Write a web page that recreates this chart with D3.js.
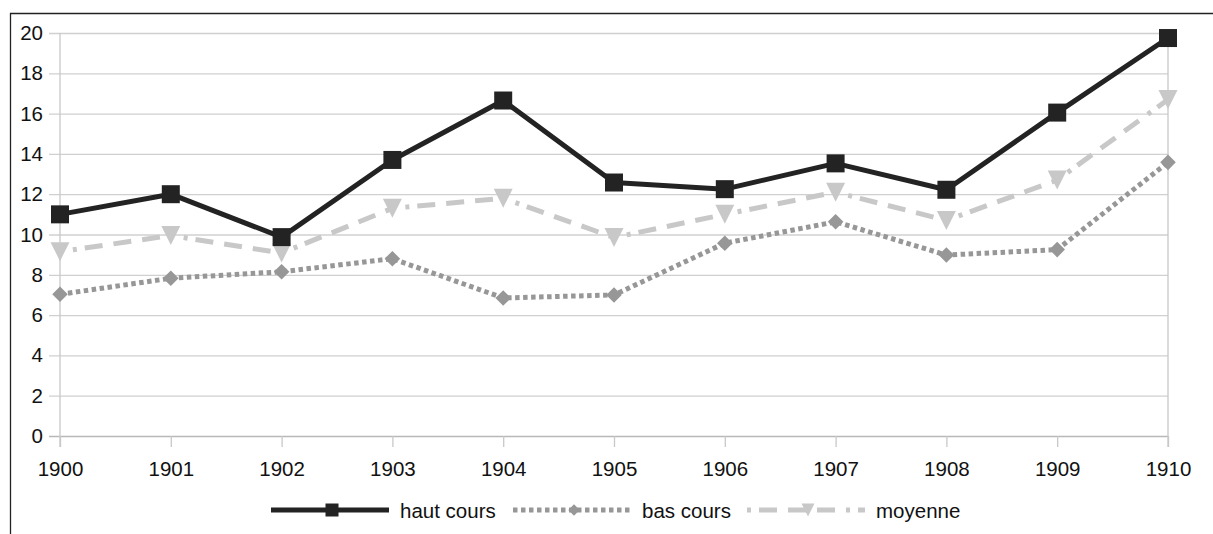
<!DOCTYPE html>
<html>
<head>
<meta charset="utf-8">
<script src="https://cdn.jsdelivr.net/npm/d3@7"></script>
<style>
  body { margin: 0; background: #fff; }
  svg { display: block; font-family: "Liberation Sans", Arial, sans-serif; }
</style>
</head>
<body>
<svg id="chart"></svg>
<script>
// data
var years = [1900, 1901, 1902, 1903, 1904, 1905, 1906, 1907, 1908, 1909, 1910];
var hautCours = [11.0, 12.0, 9.87, 13.7, 16.65, 12.58, 12.25, 13.53, 12.22, 16.05, 19.75];
var basCours = [7.03, 7.83, 8.15, 8.8, 6.85, 7.0, 9.57, 10.63, 8.98, 9.25, 13.58];
var moyenne = [9.15, 9.95, 9.08, 11.3, 11.8, 9.85, 11.0, 12.1, 10.7, 12.7, 16.7];
var yTicks = [0, 2, 4, 6, 8, 10, 12, 14, 16, 18, 20];
var legendLabels = ["haut cours", "bas cours", "moyenne"];

var W = 1213, H = 534;
var svg = d3.select("#chart").attr("width", W).attr("height", H);

// plot area
var plot = {left: 60, right: 1168, top: 33, bottom: 436};

var x = d3.scalePoint()
  .domain(years)
  .range([plot.left, plot.right]);

var y = d3.scaleLinear()
  .domain([0, 20])
  .range([plot.bottom, plot.top]);

// outer frame (top and left edges only are visible)
svg.append("path")
  .attr("d", "M10.5," + H + "V13.5H" + W)
  .attr("fill", "none")
  .attr("stroke", "#222")
  .attr("stroke-width", 1.3);

// horizontal grid + y labels
var gy = svg.append("g")
  .attr("transform", "translate(" + plot.left + ",0)")
  .call(d3.axisLeft(y).tickValues(yTicks).tickSize(-(plot.right - plot.left)).tickSizeOuter(0).tickPadding(17));
gy.select(".domain").remove();
gy.selectAll(".tick line")
  .attr("stroke", "#d0d0d0")
  .attr("stroke-width", 1.3)
  .attr("x1", -11);
gy.selectAll(".tick text")
  .attr("fill", "#111")
  .style("font-size", "20.5px");
gy.selectAll(".tick").filter(d => d === 0).select("line").attr("stroke", "#b8b8b8");

// x axis with ticks pointing down
var gx = svg.append("g")
  .attr("transform", "translate(0," + plot.bottom + ")")
  .call(d3.axisBottom(x).tickSize(11).tickSizeOuter(0).tickPadding(14));
gx.select(".domain").remove();
gx.selectAll(".tick line")
  .attr("stroke", "#c8c8c8")
  .attr("stroke-width", 1.3);
gx.selectAll(".tick text")
  .attr("fill", "#111")
  .style("font-size", "20.5px");

// left and right vertical lines
svg.append("g")
  .selectAll("line")
  .data([years[0], years[years.length - 1]])
  .join("line")
    .attr("x1", d => x(d))
    .attr("x2", d => x(d))
    .attr("y1", plot.top)
    .attr("y2", plot.bottom + 11)
    .attr("stroke", "#c8c8c8")
    .attr("stroke-width", 1.3);

// marker shapes
var triDown = {
  draw: function (ctx, size) {
    var s = Math.sqrt(size);
    ctx.moveTo(-s / 2, -s / 2);
    ctx.lineTo(s / 2, -s / 2);
    ctx.lineTo(0, s / 2);
    ctx.closePath();
  }
};

var series = [
  { name: legendLabels[0], values: hautCours, color: "#232323", dash: null, symbol: d3.symbolSquare, size: 18 * 18, rot: 0, lsize: 13 * 13 },
  { name: legendLabels[1], values: basCours, color: "#979797", dash: "4.5,3.5", symbol: d3.symbolSquare, size: 11 * 11, rot: 45, lsize: 8 * 8 },
  { name: legendLabels[2], values: moyenne, color: "#c8c8c8", dash: "4,8,18,11,18,11,18,11", symbol: triDown, size: 19 * 19, rot: 0, lsize: 13 * 13 }
];

var line = d3.line()
  .x(d => x(d[0]))
  .y(d => y(d[1]));

// draw bas cours, moyenne, then haut cours on top
[1, 2, 0].forEach(function (k) {
  var s = series[k];
  var pts = years.map((yr, i) => [yr, s.values[i]]);
  var g = svg.append("g");

  if (k === 2) {
    // the dash pattern restarts at each point
    g.selectAll("path.seg")
      .data(d3.pairs(pts))
      .join("path")
        .attr("class", "seg")
        .attr("d", d => line(d))
        .attr("fill", "none")
        .attr("stroke", s.color)
        .attr("stroke-width", 5)
        .attr("stroke-dasharray", s.dash)
        .attr("stroke-dashoffset", -13);
  } else {
    g.append("path")
      .datum(pts)
      .attr("d", line)
      .attr("fill", "none")
      .attr("stroke", s.color)
      .attr("stroke-width", 5)
      .attr("stroke-linejoin", "round")
      .attr("stroke-dasharray", s.dash);
  }

  g.selectAll("path.mark")
    .data(pts)
    .join("path")
      .attr("class", "mark")
      .attr("transform", d => "translate(" + x(d[0]) + "," + y(d[1]) + ") rotate(" + s.rot + ")")
      .attr("d", d3.symbol(s.symbol, s.size))
      .attr("fill", s.color);
});

// legend
var legendX = [271, 513, 747];
var legendY = 510;
var leg = svg.append("g")
  .selectAll("g")
  .data(series)
  .join("g")
    .attr("transform", (d, i) => "translate(" + legendX[i] + "," + legendY + ")");

leg.append("line")
  .attr("x1", 0)
  .attr("x2", 118)
  .attr("stroke", d => d.color)
  .attr("stroke-width", 5)
  .attr("stroke-dasharray", d => d.dash);

leg.append("path")
  .attr("transform", d => "translate(61,0) rotate(" + d.rot + ")")
  .attr("d", d => d3.symbol(d.symbol, d.lsize)())
  .attr("fill", d => d.color);

leg.append("text")
  .attr("x", 129)
  .attr("y", 8)
  .attr("fill", "#111")
  .style("font-size", "20.5px")
  .text(d => d.name);
</script>
</body>
</html>
